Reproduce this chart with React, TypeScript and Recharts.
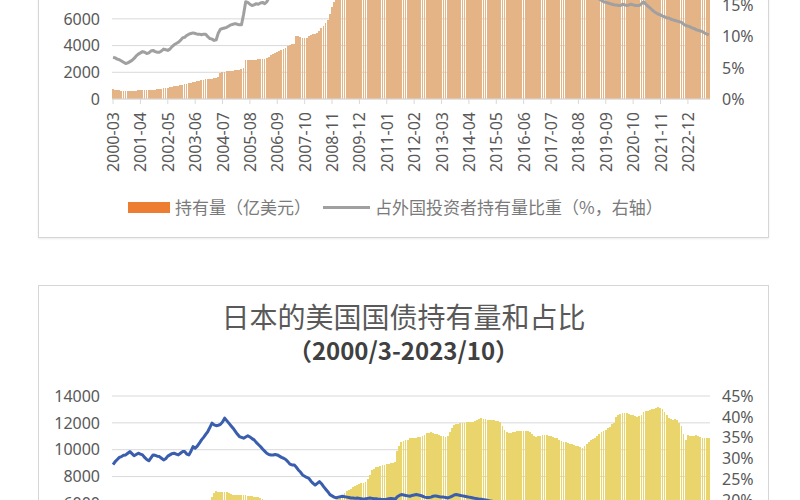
import React from 'react';
import { ComposedChart, Bar, Line, XAxis, YAxis, CartesianGrid } from 'recharts';

// ---- categories: monthly, 2000-03 .. 2023-10 ----
const START_YEAR = 2000;
const START_MONTH = 3;
const END_YEAR = 2023;
const END_MONTH = 10;
const months: string[] = [];
for (let y = START_YEAR; y <= END_YEAR; y++) {
  for (let m = 1; m <= 12; m++) {
    if (y === START_YEAR && m < START_MONTH) continue;
    if (y === END_YEAR && m > END_MONTH) continue;
    months.push(`${y}-${String(m).padStart(2, '0')}`);
  }
}

// ---- tick labels ----
const holdTicks = [0, 2000, 4000, 6000, 8000, 10000, 12000, 14000];
const chinaShareTicks = [0, 5, 10, 15, 20, 25, 30];
const japanShareTicks = [0, 5, 10, 15, 20, 25, 30, 35, 40, 45];

// ---- China: holdings (亿美元) ----
const chinaHold = [
  730, 710, 690, 660, 630, 600, 580, 590, 610, 620,
  625, 630, 640, 645, 650, 660, 670, 680, 690, 700, 710, 725,
  740, 760, 790, 820, 850, 880, 910, 940, 970, 1000, 1040, 1080,
  1110, 1150, 1190, 1230, 1270, 1310, 1350, 1380, 1410, 1440, 1470, 1500,
  1500, 1520, 1550, 1600, 1680, 1980, 2000, 2030, 2060, 2080, 2100, 2120,
  2140, 2170, 2200, 2280, 2330, 2900, 2910, 2920, 2930, 2940, 2950, 2960,
  2970, 2980, 2990, 3050, 3170, 3300, 3380, 3460, 3530, 3600, 3680, 3760,
  3850, 3950, 4040, 4100, 4150, 4720, 4700, 4650, 4580, 4560, 4600, 4700,
  4780, 4850, 4900, 4920, 5100, 5300, 5450, 5700, 5920, 6400, 6900, 7250,
  7450, 7550, 7700, 7800, 7900, 8000, 8000, 8050, 8100, 8150, 8200, 8950,
  9000, 9100, 9200, 9300, 9400, 10100, 10200, 10300, 10500, 10700, 11000, 11600,
  11550, 11540, 11450, 11520, 11590, 11650, 11730, 11370, 11480, 11340, 11330, 11520,
  11600, 11690, 11790, 11770, 11650, 11640, 11630, 11660, 11690, 11700, 11800, 12030,
  12160, 12200, 12290, 12340, 12540, 12750, 12720, 12710, 12850, 13050, 13180, 12700,
  12750, 12720, 12700, 12630, 12710, 12690, 12660, 12690, 12700, 12500, 12500, 12440,
  12390, 12370, 12610, 12640, 12710, 12710, 12580, 12660, 12800, 12560, 12640, 12460,
  12460, 12520, 12440, 12450, 12440, 12400, 12180, 11850, 11570, 11150, 10490, 10580,
  10510, 10510, 10880, 10910, 11020, 11460, 11670, 12000, 11800, 11890, 11760, 11850,
  11680, 11760, 11880, 11820, 11830, 11780, 11710, 11650, 11510, 11380, 11210, 11230,
  11260, 11310, 11200, 11130, 11100, 11120, 11100, 11030, 11020, 10930, 10940, 10730,
  10790, 10900, 10820, 10720, 10830, 10740, 10820, 10700, 10630, 10540, 10630, 10610,
  10950, 10780, 10730, 10960, 10780, 10610, 10580, 10480, 10480, 10480, 10590, 10700,
  10600, 10300, 10400, 10050, 9810, 9680, 9700, 9720, 9710, 9080, 8700, 8670,
  8590, 8490, 8690, 8690, 8460, 8350, 8220, 8050, 7780, 7690,
];

// ---- China: share of foreign holdings (%) ----
const chinaShare = [
  6.7, 6.6, 6.4, 6.3, 6.1, 5.9, 5.7, 5.8, 6.0, 6.2,
  6.5, 6.9, 7.2, 7.4, 7.6, 7.5, 7.3, 7.4, 7.7, 7.8, 7.6, 7.5,
  7.5, 7.7, 8.0, 7.9, 7.8, 8.0, 8.4, 8.7, 8.9, 9.1, 9.4, 9.8,
  9.9, 10.2, 10.4, 10.5, 10.6, 10.5, 10.4, 10.4, 10.3, 10.4, 10.4, 10.0,
  9.7, 9.6, 9.4, 9.5, 10.6, 11.2, 11.3, 11.4, 11.5, 11.7, 11.9, 12.0,
  12.1, 12.0, 11.9, 11.9, 13.6, 15.6, 15.5, 15.2, 15.0, 15.1, 15.3, 15.2,
  15.4, 15.5, 15.3, 15.6, 16.2, 16.8, 17.1, 17.4, 17.6, 17.8, 18.0, 18.3,
  18.5, 18.7, 18.9, 19.0, 19.1, 20.0, 19.8, 19.7, 19.5, 19.5, 19.7, 19.9,
  19.8, 19.7, 19.6, 19.7, 19.8, 20.5, 20.6, 20.9, 21.4, 22.1, 22.4, 22.9,
  23.0, 23.2, 23.3, 23.4, 23.4, 23.3, 23.1, 23.0, 22.8, 22.7, 22.5, 24.2,
  24.0, 23.8, 23.7, 23.5, 23.3, 24.6, 24.5, 24.4, 24.6, 24.8, 25.2, 26.1,
  26.0, 25.8, 25.6, 25.7, 25.8, 25.5, 25.6, 24.9, 24.9, 24.6, 24.4, 23.7,
  23.7, 23.6, 23.6, 23.4, 23.1, 22.9, 22.6, 22.6, 22.5, 22.3, 22.2, 21.9,
  22.0, 22.0, 22.0, 22.0, 22.3, 22.6, 22.6, 22.5, 22.6, 22.8, 22.7, 21.9,
  22.0, 21.8, 21.6, 21.5, 21.4, 21.3, 21.2, 21.1, 21.1, 20.7, 20.6, 20.5,
  20.4, 20.3, 20.6, 20.6, 20.6, 20.6, 20.5, 20.7, 20.9, 20.5, 20.6, 20.4,
  20.4, 20.5, 20.3, 20.3, 20.2, 20.0, 19.6, 19.2, 18.8, 18.4, 17.9, 18.0,
  17.8, 17.9, 18.3, 18.3, 18.4, 18.9, 19.0, 19.4, 19.1, 19.2, 18.9, 18.8,
  18.5, 18.6, 18.7, 18.6, 18.7, 18.6, 18.4, 18.3, 18.0, 17.8, 17.6, 17.3,
  17.2, 17.0, 16.8, 16.6, 16.3, 16.0, 15.8, 15.6, 15.5, 15.4, 15.3, 15.2,
  15.1, 15.1, 15.0, 15.0, 15.2, 15.1, 15.0, 15.1, 15.2, 15.1, 15.0, 15.0,
  15.0, 15.3, 15.6, 15.2, 14.9, 14.6, 14.3, 14.0, 13.8, 13.6, 13.5, 13.3,
  13.2, 13.0, 13.0, 12.8, 12.7, 12.6, 12.5, 12.4, 12.3, 12.0, 11.8, 11.7,
  11.6, 11.4, 11.3, 11.1, 11.0, 10.9, 10.8, 10.6, 10.4, 10.3,
];

// ---- Japan: holdings (亿美元) ----
const japanHold = [
  3200, 3180, 3150, 3100, 3080, 3060, 3050, 3070, 3090, 3100,
  3150, 3170, 3200, 3230, 3260, 3290, 3320, 3350, 3380, 3410, 3440, 3470,
  3500, 3550, 3600, 3650, 3700, 3750, 3780, 3800, 3820, 3850, 3870, 3900,
  4000, 4100, 4250, 4400, 4600, 4800, 5000, 5150, 5300, 5450, 5550, 5600,
  6100, 6500, 6780, 6900, 6880, 6850, 6860, 6870, 6830, 6800, 6720, 6660,
  6650, 6620, 6650, 6640, 6620, 6600, 6570, 6550, 6520, 6500, 6470, 6450,
  6420, 6350, 6250, 6200, 6150, 6200, 6250, 6200, 6150, 6100, 6100, 6200,
  6150, 6100, 6050, 6000, 5950, 5950, 5900, 5850, 5850, 5900, 5850, 5800,
  5850, 5900, 5950, 6000, 6000, 5950, 5900, 5850, 5950, 6000, 6100, 6250,
  6250, 6350, 6450, 6600, 6750, 6900, 7000, 7100, 7200, 7300, 7400, 7450,
  7500, 7550, 7600, 7800, 8100, 8500, 8600, 8700, 8750, 8800, 8850, 8850,
  8900, 8950, 9000, 9000, 9050, 9900, 10300, 10600, 10650, 10700, 10750, 10850,
  10850, 10900, 10900, 10950, 10980, 11000, 11100, 11220, 11250, 11300, 11250, 11200,
  11150, 11100, 11050, 11000, 10980, 11000, 11300, 11600, 11840, 11900, 11950, 11980,
  12000, 12020, 12050, 12070, 12090, 12100, 12150, 12200, 12300, 12340, 12300, 12280,
  12250, 12220, 12200, 12180, 12150, 12120, 12100, 11800, 11500, 11300, 11220, 11250,
  11300, 11350, 11380, 11400, 11400, 11400, 11400, 11380, 11300, 11200, 11050, 10980,
  11000, 11050, 11100, 11100, 11080, 11050, 11000, 10950, 10900, 10850, 10750, 10650,
  10600, 10550, 10500, 10450, 10400, 10350, 10300, 10250, 10200, 10110, 10300, 10400,
  10600, 10700, 10800, 10900, 11000, 11200, 11300, 11400, 11500, 11600, 11700, 11900,
  12000, 12400, 12590, 12650, 12700, 12710, 12700, 12680, 12600, 12550, 12500, 12470,
  12500, 12600, 12830, 12850, 12900, 12950, 13000, 13050, 13100, 13200, 13100, 13000,
  12800, 12600, 12340, 12300, 12200, 12300, 12200, 12000, 11800, 11200, 10730, 11100,
  11050, 11000, 11000, 11100, 11000, 10950, 10900, 10900, 10850, 10850,
];

// ---- Japan: share of foreign holdings (%) ----
const japanShare = [
  28.6, 29.3, 29.8, 30.3, 30.5, 30.8, 30.9, 31.3, 31.7, 31.2,
  30.7, 31.0, 31.3, 31.1, 30.9, 30.3, 29.8, 29.5, 30.2, 30.9, 30.8, 30.6,
  30.5, 30.1, 29.7, 30.0, 30.6, 30.9, 31.2, 31.3, 31.1, 30.9, 31.3, 31.7,
  31.7, 31.1, 30.9, 31.8, 32.9, 32.5, 33.0, 33.7, 34.5, 35.1, 35.8, 36.5,
  37.5, 38.5, 38.1, 37.9, 38.0, 38.2, 38.8, 39.7, 39.1, 38.5, 37.9, 37.3,
  36.6, 35.9, 35.3, 35.1, 34.9, 35.2, 35.5, 35.2, 34.8, 34.5, 33.9, 33.4,
  32.9, 32.3, 31.8, 31.3, 31.0, 30.9, 30.9, 31.0, 30.9, 30.6, 30.3, 30.1,
  29.8, 29.3, 28.7, 28.5, 28.5, 28.0, 27.3, 26.8, 26.1, 25.8, 25.5, 25.3,
  24.6, 24.1, 23.7, 24.1, 24.5, 24.0, 23.3, 22.7, 22.1, 21.4, 21.1, 20.8,
  20.6, 20.8, 20.9, 21.0, 20.9, 20.8, 20.7, 20.6, 20.6, 20.5, 20.6, 20.5,
  20.4, 20.3, 20.4, 20.5, 20.6, 20.5, 20.4, 20.4, 20.3, 20.3, 20.2, 20.2,
  20.3, 20.4, 20.5, 20.4, 20.3, 20.9, 21.2, 21.4, 21.3, 21.2, 21.1, 21.0,
  21.2, 21.3, 21.4, 21.3, 21.2, 21.0, 20.8, 20.7, 20.7, 20.8, 21.0, 21.1,
  21.0, 20.9, 20.8, 20.8, 20.7, 20.6, 20.8, 21.0, 21.3, 21.4, 21.3, 21.2,
  21.1, 21.0, 20.9, 20.8, 20.7, 20.6, 20.5, 20.4, 20.3, 20.3, 20.2, 20.1,
  20.0, 19.9, 19.8, 19.7, 19.7, 19.6, 19.5, 19.4, 19.2, 19.0, 18.9, 18.8,
  18.8, 18.9, 19.0, 19.0, 18.9, 18.8, 18.7, 18.6, 18.4, 18.2, 18.0, 17.9,
  17.8, 17.8, 17.9, 17.9, 17.8, 17.7, 17.6, 17.5, 17.4, 17.3, 17.2, 17.1,
  17.0, 16.9, 16.9, 16.8, 16.7, 16.6, 16.6, 16.5, 16.4, 16.3, 16.4, 16.5,
  16.6, 16.7, 16.8, 16.9, 17.0, 17.1, 17.2, 17.3, 17.4, 17.5, 17.5, 17.6,
  17.7, 17.8, 17.9, 18.0, 18.1, 18.2, 18.3, 18.3, 18.2, 18.1, 18.0, 17.9,
  17.8, 17.9, 18.0, 17.9, 17.8, 17.7, 17.6, 17.6, 17.5, 17.6, 17.7, 17.6,
  17.5, 17.2, 16.8, 16.5, 16.3, 16.2, 16.1, 16.0, 15.6, 15.2, 14.8, 14.6,
  14.5, 14.4, 14.6, 14.7, 14.6, 14.5, 14.4, 14.4, 14.3, 14.3,
];

const chinaRows = months.map((m, i) => ({ m, hold: chinaHold[i], share: chinaShare[i] }));
const japanRows = months.map((m, i) => ({ m, hold: japanHold[i], share: japanShare[i] }));

const NUM_FONT = "'Noto Sans', 'Noto Sans CJK SC', sans-serif";
const CJK_FONT = "'Noto Sans CJK SC', 'Noto Sans', sans-serif";
const TEXT = '#595959';
const GRID = '#D9D9D9';

const MonthTick = (props: any) => {
  const { x, y, payload } = props;
  return (
    <text
      x={x}
      y={y}
      transform={`rotate(-90 ${x} ${y})`}
      textAnchor="end"
      dominantBaseline="central"
      fontSize={16}
      fontFamily={NUM_FONT}
      fill={TEXT}
    >
      {payload.value}
    </text>
  );
};

const pct = (v: number) => `${v}%`;

function DualChart(props: {
  rows: any[];
  height: number;
  top: number;
  bottom: number;
  shareTicks: number[];
  barColor: string;
  lineColor: string;
}) {
  const { rows, height, top, bottom, shareTicks, barColor, lineColor } = props;
  return (
    <ComposedChart
      width={729}
      height={height}
      data={rows}
      margin={{ top, right: 0, bottom, left: 0 }}
      className="crisp"
    >
      <CartesianGrid yAxisId="left" vertical={false} stroke={GRID} strokeWidth={1} />
      <XAxis
        dataKey="m"
        interval={12}
        height={80}
        tickSize={5}
        tickMargin={8}
        tick={<MonthTick />}
        axisLine={{ stroke: GRID }}
        tickLine={{ stroke: GRID }}
      />
      <YAxis
        yAxisId="left"
        width={73}
        domain={[0, 14000]}
        ticks={holdTicks}
        interval={0}
        axisLine={false}
        tickLine={false}
        tickSize={0}
        tickMargin={12}
        tick={{ fill: TEXT, fontSize: 16, fontFamily: NUM_FONT }}
      />
      <YAxis
        yAxisId="right"
        orientation="right"
        width={58}
        domain={[0, shareTicks[shareTicks.length - 1]]}
        ticks={shareTicks}
        interval={0}
        tickFormatter={pct}
        axisLine={false}
        tickLine={false}
        tickSize={0}
        tickMargin={12}
        tick={{ fill: TEXT, fontSize: 16, fontFamily: NUM_FONT, textAnchor: 'start' }}
      />
      <Bar
        yAxisId="left"
        dataKey="hold"
        fill={barColor}
        barSize={1.8}
        isAnimationActive={false}
        shapeRendering="crispEdges"
      />
      <Line
        yAxisId="right"
        dataKey="share"
        type="linear"
        stroke={lineColor}
        strokeWidth={3}
        strokeLinejoin="round"
        dot={false}
        activeDot={false}
        isAnimationActive={false}
      />
    </ComposedChart>
  );
}

export default function App() {
  return (
    <div
      style={{
        position: 'fixed',
        left: 0,
        top: 0,
        width: 800,
        height: 500,
        overflow: 'hidden',
        background: '#ffffff',
      }}
    >
      <style>{`.crisp .recharts-bar-rectangles, .crisp .recharts-bar-rectangle path { shape-rendering: crispEdges; }`}</style>

      {/* Top panel: China (mostly above the visible area) */}
      <div
        style={{
          position: 'absolute',
          left: 38,
          top: -190,
          width: 731,
          height: 428,
          border: '1px solid #D6D6D6',
          boxSizing: 'border-box',
          boxShadow: '0 1px 2px rgba(0,0,0,0.08)',
        }}
      >
        <div
          style={{
            position: 'absolute', left: 0, top: 16, width: 729, textAlign: 'center',
            fontFamily: CJK_FONT, fontSize: 28, lineHeight: '28px', color: TEXT,
          }}
        >
          中国的美国国债持有量和占比
        </div>
        <div style={{ position: 'absolute', left: 0, top: 0 }}>
          <DualChart
            rows={chinaRows}
            height={426}
            top={101}
            bottom={58}
            shareTicks={chinaShareTicks}
            barColor="#E4B486"
            lineColor="#A0A0A0"
          />
        </div>
        {/* legend */}
        <div style={{ position: 'absolute', left: 89, top: 391, width: 42, height: 11, background: '#ED7D31' }} />
        <div
          style={{
            position: 'absolute', left: 136, top: 387, whiteSpace: 'nowrap',
            fontFamily: CJK_FONT, fontSize: 17, lineHeight: '17px', color: '#7A7A7A',
          }}
        >
          持有量（亿美元）
        </div>
        <div style={{ position: 'absolute', left: 284, top: 395, width: 47, height: 3, background: '#A0A0A0' }} />
        <div
          style={{
            position: 'absolute', left: 336, top: 387, whiteSpace: 'nowrap',
            fontFamily: CJK_FONT, fontSize: 17, lineHeight: '17px', color: '#7A7A7A',
          }}
        >
          占外国投资者持有量比重（%，右轴）
        </div>
      </div>

      {/* Bottom panel: Japan */}
      <div
        style={{
          position: 'absolute',
          left: 38,
          top: 285,
          width: 731,
          height: 460,
          border: '1px solid #D6D6D6',
          boxSizing: 'border-box',
        }}
      >
        <div
          style={{
            position: 'absolute', left: 0, top: 15.5, width: 729, textAlign: 'center',
            fontFamily: CJK_FONT, fontSize: 28, lineHeight: '28px', color: TEXT,
          }}
        >
          日本的美国国债持有量和占比
        </div>
        <div
          style={{
            position: 'absolute', left: 0, top: 52, width: 729, textAlign: 'center',
            fontFamily: CJK_FONT, fontSize: 24, lineHeight: '24px', fontWeight: 700, color: '#404040',
          }}
        >
          （2000/3-2023/10）
        </div>
        <div style={{ position: 'absolute', left: 0, top: 0 }}>
          <DualChart
            rows={japanRows}
            height={458}
            top={110}
            bottom={80}
            shareTicks={japanShareTicks}
            barColor="#E9D56B"
            lineColor="#3A5DAE"
          />
        </div>
      </div>
    </div>
  );
}
